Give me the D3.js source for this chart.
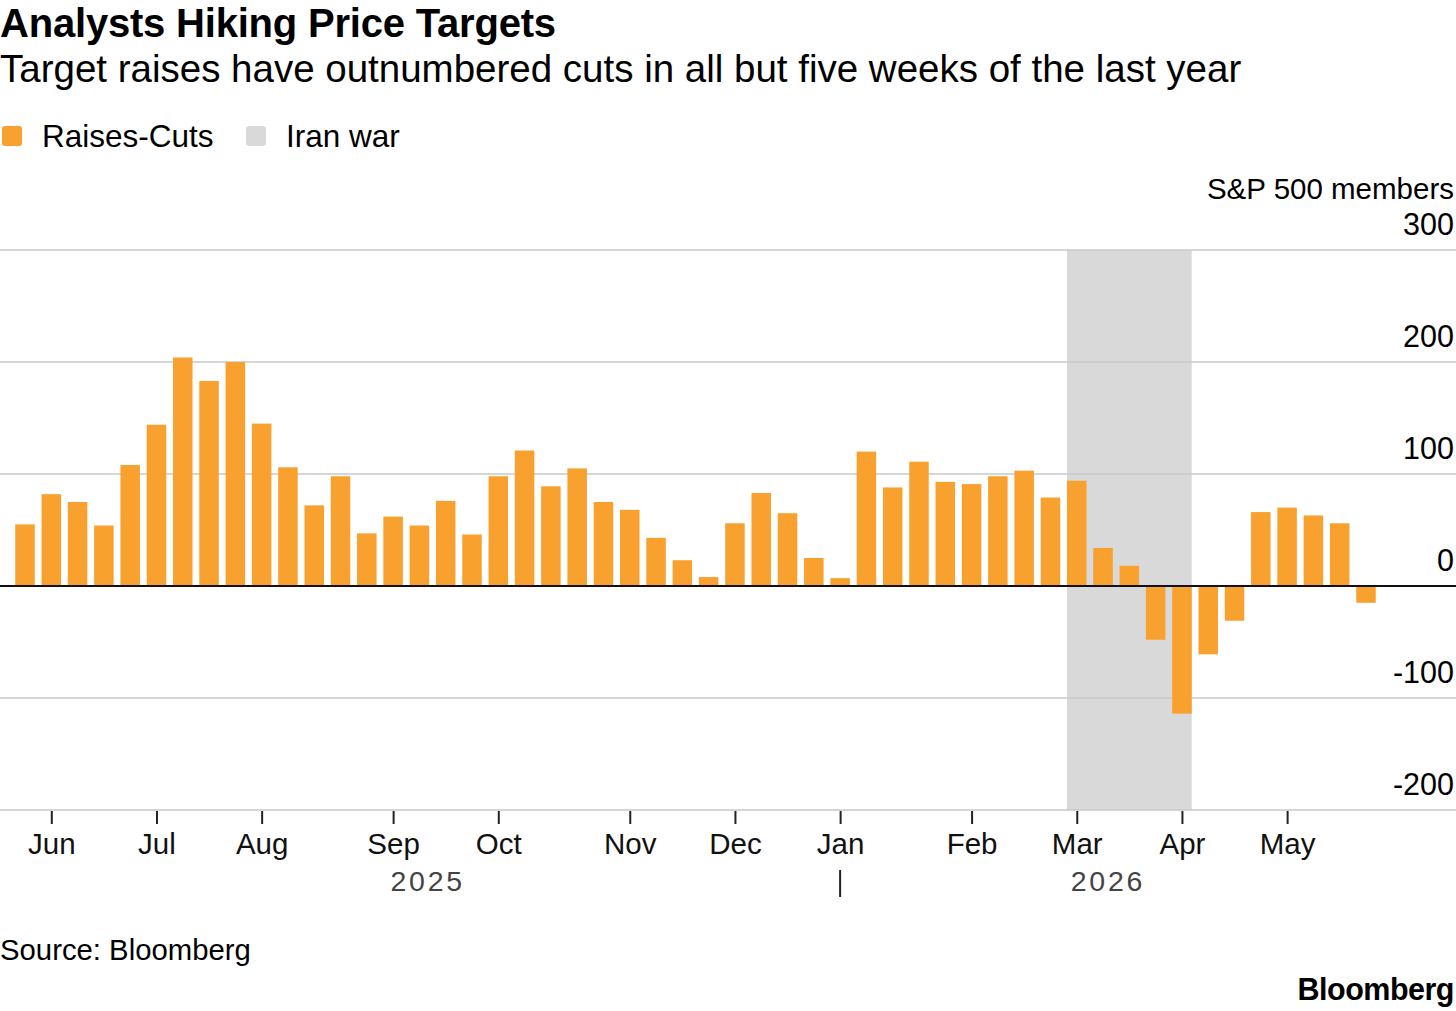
<!DOCTYPE html>
<html><head><meta charset="utf-8">
<script src="https://cdn.jsdelivr.net/npm/d3@7"></script>
<style>
html,body{margin:0;padding:0;background:#fff;}
svg{display:block;font-family:"Liberation Sans","Helvetica Neue",Arial,sans-serif;}
</style></head>
<body><svg id="c" width="1456" height="1011"></svg>
<script>
// ---- data ----
const weeks = ["2025-05-30","2025-06-06","2025-06-13","2025-06-20","2025-06-27","2025-07-04","2025-07-11","2025-07-18","2025-07-25","2025-08-01","2025-08-08","2025-08-15","2025-08-22","2025-08-29","2025-09-05","2025-09-12","2025-09-19","2025-09-26","2025-10-03","2025-10-10","2025-10-17","2025-10-24","2025-10-31","2025-11-07","2025-11-14","2025-11-21","2025-11-28","2025-12-05","2025-12-12","2025-12-19","2025-12-26","2026-01-02","2026-01-09","2026-01-16","2026-01-23","2026-01-30","2026-02-06","2026-02-13","2026-02-20","2026-02-27","2026-03-06","2026-03-13","2026-03-20","2026-03-27","2026-04-03","2026-04-10","2026-04-17","2026-04-24","2026-05-01","2026-05-08","2026-05-15","2026-05-22"];
const raisesMinusCuts = [55,82,75,54,108,144,204,183,200,145,106,72,98,47,62,54,76,46,98,121,89,105,75,68,43,23,8,56,83,65,25,7,120,88,111,93,91,98,103,79,94,34,18,-48,-114,-61,-31,66,70,63,56,-15];
const iranWar = ["2026-03-06","2026-04-03"];
const monthTicks = ["2025-06-06","2025-07-04","2025-08-01","2025-09-05","2025-10-03","2025-11-07","2025-12-05","2026-01-02","2026-02-06","2026-03-06","2026-04-03","2026-05-01"];
const yTicks = [-200,-100,0,100,200,300];
const yearLabels = ["2025","2026"];
const yearBreak = "2026-01-02";

const parse = d3.timeParse("%Y-%m-%d");
const data = weeks.map((w,i)=>({date:parse(w), value:raisesMinusCuts[i]}));

const svg = d3.select("#c");
const W = 1456;
const bw = 19.5;
const x = d3.scaleTime().domain([parse(weeks[0]), parse(weeks[weeks.length-1])]).range([25, 1366]);
const y = d3.scaleLinear().domain([-200,300]).range([810,250]);

// titles
svg.append("text").attr("x",0).attr("y",37).attr("font-size",40).attr("font-weight",700)
  .attr("letter-spacing",-0.2).text("Analysts Hiking Price Targets");
svg.append("text").attr("x",0).attr("y",82).attr("font-size",38.5)
  .text("Target raises have outnumbered cuts in all but five weeks of the last year");

// legend
const leg = svg.append("g");
leg.append("rect").attr("x",2).attr("y",126).attr("width",20).attr("height",20).attr("rx",3).attr("fill","#F9A12E");
leg.append("text").attr("x",42).attr("y",147).attr("font-size",31.5).text("Raises-Cuts");
leg.append("rect").attr("x",246).attr("y",126).attr("width",20).attr("height",20).attr("rx",3).attr("fill","#D9D9D9");
leg.append("text").attr("x",286).attr("y",147).attr("font-size",31.5).text("Iran war");

// shading
svg.append("rect")
  .attr("x", x(parse(iranWar[0]))-bw/2)
  .attr("y", y(300))
  .attr("width", x(parse(iranWar[1]))-x(parse(iranWar[0]))+bw)
  .attr("height", y(-200)-y(300))
  .attr("fill","#D9D9D9");

// grid
svg.append("g").selectAll("line").data(yTicks.filter(d=>d!==0)).join("line")
  .attr("x1",0).attr("x2",W).attr("y1",d=>y(d)).attr("y2",d=>y(d))
  .attr("stroke","#c8c8c8").attr("stroke-width",1.5);

// y labels
svg.append("g").selectAll("text").data(yTicks).join("text")
  .attr("x",1454).attr("y",d=>y(d)-15).attr("text-anchor","end").attr("font-size",30.5)
  .text(d=>d);
svg.append("text").attr("x",1454).attr("y",199).attr("text-anchor","end").attr("font-size",29.5).text("S&P 500 members");

// bars
svg.append("g").selectAll("rect").data(data).join("rect")
  .attr("x",d=>x(d.date)-bw/2)
  .attr("y",d=>y(Math.max(0,d.value)))
  .attr("width",bw)
  .attr("height",d=>Math.abs(y(d.value)-y(0)))
  .attr("fill","#F9A12E");

// zero line
svg.append("line").attr("x1",0).attr("x2",W).attr("y1",y(0)).attr("y2",y(0))
  .attr("stroke","#111").attr("stroke-width",1.8);

// x axis
const xa = svg.append("g").attr("transform",`translate(0,${y(-200)+1})`)
  .call(d3.axisBottom(x).tickValues(monthTicks.map(parse)).tickFormat(d3.timeFormat("%b")).tickSize(13).tickPadding(9));
xa.select(".domain").remove();
xa.selectAll(".tick line").attr("stroke","#222").attr("stroke-width",2);
xa.selectAll(".tick text").attr("font-size",29.5).attr("fill","#111").attr("font-family","inherit");

// year labels
const xb = x(parse(yearBreak));
const x0 = x(parse(weeks[0]))-bw/2, x1 = x(parse(weeks[weeks.length-1]))+bw/2;
svg.append("g").selectAll("text").data(yearLabels).join("text")
  .attr("x",(d,i)=> i===0 ? (x0+xb)/2 : (xb+x1)/2)
  .attr("y",891).attr("text-anchor","middle").attr("font-size",28.5).attr("letter-spacing",2.8)
  .attr("fill","#444").text(d=>d);
svg.append("line").attr("x1",xb).attr("x2",xb).attr("y1",870).attr("y2",897).attr("stroke","#222").attr("stroke-width",2);

// source
svg.append("text").attr("x",0).attr("y",960).attr("font-size",29.3).text("Source: Bloomberg");
svg.append("text").attr("x",1454).attr("y",1000).attr("text-anchor","end").attr("font-size",30.5).attr("font-weight",700)
  .attr("letter-spacing",-0.5).text("Bloomberg");
</script></body></html>
